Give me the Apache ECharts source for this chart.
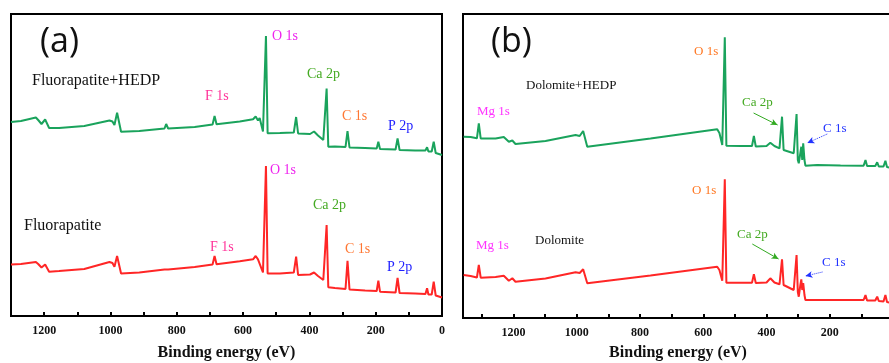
<!DOCTYPE html>
<html>
<head>
<meta charset="utf-8">
<script src="https://cdn.jsdelivr.net/npm/echarts@6/dist/echarts.min.js"></script>
<style>
  html, body { margin: 0; padding: 0; background: #fff; }
  #box { width: 889px; height: 363px; }
</style>
</head>
<body>
<div id="box"></div>
<script>
// panel (a): binding energy (eV) and intensity (a.u.)
const energyA = [1300, 1270, 1225, 1218, 1208, 1197, 1185, 1155, 1079, 1003, 994, 988, 980, 968, 913, 837, 832, 826, 746, 692, 686, 680, 610, 570, 562, 555, 550, 540, 535, 531, 526, 489, 447, 440, 434, 398, 386, 374, 358, 353, 348, 343, 323, 291, 285, 279, 232, 197, 192, 187, 140, 134, 128, 81, 50, 45, 41, 31, 25, 19, 0];
const fapHedp = [194, 195, 198.5, 196, 192, 196.5, 188, 188, 190, 195.5, 194.5, 191, 203.3, 184.3, 185, 187.5, 192, 187.5, 189, 191.5, 200, 191.7, 194.5, 196.7, 199.5, 195.5, 198, 184.5, 183, 280, 182.7, 183, 183.5, 199, 182.5, 182, 184.5, 180.5, 176, 175, 227.5, 169.3, 169.5, 169, 185, 168.5, 168, 167.5, 174.3, 167, 166.5, 177.7, 166, 165.5, 165.5, 168.7, 164.5, 164.5, 174.3, 163, 161];
const fapPure = [51.5, 52, 54, 52, 48.5, 51.5, 44.3, 45, 47, 54, 53, 49.3, 60, 42.5, 43.5, 46.5, 48.5, 46.5, 49, 51.5, 60, 51.7, 54.7, 56.7, 60, 56.7, 58, 43.5, 43, 150, 42.5, 42.5, 43.5, 59.3, 41, 41.5, 43.5, 40, 36, 35, 91, 28.7, 28, 27, 55.3, 26.5, 25.5, 25, 35.3, 24.3, 23.5, 38, 23, 22.5, 22, 27.7, 21.5, 21.5, 34.3, 20.5, 18.5];

// panel (b)
const energyB = [1358, 1336, 1316, 1310, 1304, 1257, 1231, 1215, 1204, 1194, 1099, 1004, 991, 980, 967, 767, 556, 549, 540, 536, 532, 527, 482, 446, 440, 434, 400, 388, 375, 359, 354, 351, 346, 314, 309, 305, 301, 298, 293, 290, 287, 284, 280, 277, 240, 166, 93, 87, 82, 56, 50, 45, 30, 24, 19, 11, 0];
const dolHedp = [181.3, 181, 179.7, 194.7, 179.5, 179.5, 181, 176.3, 177.5, 174, 177, 183, 182, 187, 171.3, 179.5, 188.7, 185, 173, 172, 280.7, 172.3, 172, 172, 182, 171.5, 172, 175.3, 172, 169.7, 169.5, 201.3, 168, 164.7, 164.5, 204, 158, 154.7, 165, 171.3, 158, 174.7, 158, 152.3, 153, 152.5, 152.3, 158, 152, 152, 155.7, 151.5, 151.5, 157.3, 151, 150.3, 150];
const dolPure = [43, 42, 40.5, 53, 40.3, 41, 42.3, 37.3, 39.7, 36.3, 39.5, 45.7, 45, 48.7, 34.7, 42.5, 51.3, 48, 37.3, 36.5, 138.7, 35.3, 35.3, 35.3, 43.7, 35, 35.5, 39.7, 35.5, 33.7, 33, 58.7, 33, 28, 27.5, 63, 26, 21.3, 33, 38.7, 28, 35, 23, 18, 18, 18, 18, 23, 17.5, 17.5, 21.3, 17, 16.5, 23, 16, 15.3, 15];

// arrows in panel (b): [fromE, fromI, toE, toI]
const arrowCaHedp = [441, 205, 365, 193];
const arrowCHedp = [208, 184, 271, 175];
const arrowCaPure = [445, 74, 362, 59];
const arrowCPure = [223, 46, 277, 42];

const GREEN = "#1aa35c", RED = "#ff2626";
const SERIF = "'Liberation Serif', 'Times New Roman', serif";

let chart = echarts.init(document.getElementById("box"), null, { renderer: "canvas" });

function pairs(xs, ys) {
  return xs.map((x, i) => [x, ys[i]]);
}

function arrow(a, color, dashed) {
  return {
    silent: true,
    symbol: ["none", "arrow"],
    symbolSize: [5, 7],
    label: { show: false },
    lineStyle: { color: color, width: 1, type: dashed ? "dotted" : "solid" },
    data: [[{ coord: [a[0], a[1]] }, { coord: [a[2], a[3]] }]]
  };
}

function xAxisCfg(idx, max, hideEnds, gap) {
  return {
    type: "value",
    gridIndex: idx,
    inverse: true,
    min: 0,
    max: max,
    interval: 100,
    splitLine: { show: false },
    axisLine: { show: true, lineStyle: { color: "#000", width: 2 } },
    axisTick: { show: true, inside: true, length: 4, lineStyle: { color: "#000", width: 2 } },
    axisLabel: {
      margin: 9,
      color: "#111",
      fontFamily: SERIF,
      fontWeight: "bold",
      fontSize: 12,
      formatter: v => {
        if (v % 200 !== 0 || v > 1200) return "";
        if (hideEnds && v === 0) return "";
        return String(v);
      }
    },
    name: "Binding energy (eV)",
    nameLocation: "middle",
    nameGap: gap,
    nameTextStyle: { color: "#111", fontFamily: SERIF, fontWeight: "bold", fontSize: 16 }
  };
}

function tag(text, x, y, color, size, font) {
  return {
    type: "text",
    left: x,
    top: y - size / 2 - 1,
    style: {
      text: text,
      fill: color,
      font: (font || "") + " " + size + "px " + SERIF
    }
  };
}

function sansTag(text, x, y) {
  return {
    type: "text",
    left: x,
    top: y,
    style: { text: text, fill: "#111", font: "34px 'Open Sans', 'Liberation Sans', sans-serif" }
  };
}

let option = {
  animation: false,
  backgroundColor: "#fff",
  grid: [
    { left: 11, top: 14, width: 431, height: 302, show: true, borderColor: "#000", borderWidth: 2, outerBoundsMode: "none", containLabel: false },
    { left: 463, top: 14, width: 430, height: 304, show: true, borderColor: "#000", borderWidth: 2, outerBoundsMode: "none", containLabel: false }
  ],
  xAxis: [xAxisCfg(0, 1300, false, 29), xAxisCfg(1, 1360, true, 27)],
  yAxis: [
    { type: "value", gridIndex: 0, min: 0, max: 302, show: false },
    { type: "value", gridIndex: 1, min: 0, max: 304, show: false }
  ],
  series: [
    {
      type: "line", xAxisIndex: 0, yAxisIndex: 0, showSymbol: false,
      lineStyle: { color: GREEN, width: 2 }, data: pairs(energyA, fapHedp)
    },
    {
      type: "line", xAxisIndex: 0, yAxisIndex: 0, showSymbol: false,
      lineStyle: { color: RED, width: 2 }, data: pairs(energyA, fapPure)
    },
    {
      type: "line", xAxisIndex: 1, yAxisIndex: 1, showSymbol: false,
      lineStyle: { color: GREEN, width: 2 }, data: pairs(energyB, dolHedp),
      markLine: arrow(arrowCaHedp, "#33aa22", false)
    },
    {
      type: "line", xAxisIndex: 1, yAxisIndex: 1, showSymbol: false,
      lineStyle: { color: RED, width: 2 }, data: pairs(energyB, dolPure),
      markLine: arrow(arrowCaPure, "#33aa22", false)
    },
    {
      type: "line", xAxisIndex: 1, yAxisIndex: 1, showSymbol: false, data: [],
      markLine: arrow(arrowCHedp, "#2233ff", true)
    },
    {
      type: "line", xAxisIndex: 1, yAxisIndex: 1, showSymbol: false, data: [],
      markLine: arrow(arrowCPure, "#2233ff", true)
    }
  ],
  graphic: [
    sansTag("(a)", 40, 25),
    sansTag("(b)", 491, 25),
    // panel (a) upper
    tag("Fluorapatite+HEDP", 32, 82, "#111", 16),
    tag("F 1s", 205, 97, "#ff3399", 14),
    tag("O 1s", 272, 37, "#ee22ee", 14),
    tag("Ca 2p", 307, 75, "#44aa22", 14),
    tag("C 1s", 342, 117, "#ff7733", 14),
    tag("P 2p", 388, 127, "#2222ff", 14),
    // panel (a) lower
    tag("Fluorapatite", 24, 227, "#111", 16),
    tag("F 1s", 210, 248, "#ff3399", 14),
    tag("O 1s", 270, 171, "#ee22ee", 14),
    tag("Ca 2p", 313, 206, "#44aa22", 14),
    tag("C 1s", 345, 250, "#ff7733", 14),
    tag("P 2p", 387, 268, "#2222ff", 14),
    // panel (b) upper
    tag("Dolomite+HEDP", 526, 87, "#111", 13),
    tag("Mg 1s", 477, 113, "#ff33ff", 13),
    tag("O 1s", 694, 53, "#ff7722", 13),
    tag("Ca 2p", 742, 104, "#44aa22", 13),
    tag("C 1s", 823, 130, "#2233ff", 13),
    // panel (b) lower
    tag("Dolomite", 535, 242, "#111", 13),
    tag("Mg 1s", 476, 247, "#ff33ff", 13),
    tag("O 1s", 692, 192, "#ff7722", 13),
    tag("Ca 2p", 737, 236, "#44aa22", 13),
    tag("C 1s", 822, 264, "#2233ff", 13)
  ]
};

chart.setOption(option);
</script>
</body>
</html>
